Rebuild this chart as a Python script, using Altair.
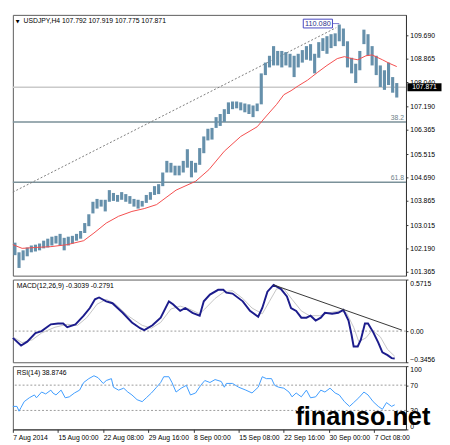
import altair as alt
import pandas as pd

FONT = "Liberation Sans"

# ---------------- data ----------------
bar_no = list(range(2, 376, 4))
bar_high = [102.40, 102.06, 102.13, 102.23, 102.30, 102.33, 102.37, 102.47, 102.54, 102.61,
            102.64, 102.71, 102.57, 102.61, 102.64, 102.71, 102.81, 103.09, 103.40, 103.84,
            103.94, 103.91, 103.91, 104.25, 104.15, 104.08, 104.18, 104.11, 104.04, 103.94,
            103.91, 103.87, 104.08, 104.18, 104.39, 104.46, 104.87, 105.28, 105.21, 105.11,
            105.11, 105.28, 105.69, 105.28, 105.21, 105.73, 106.14, 106.41, 106.44, 106.82,
            106.93, 107.10, 107.34, 107.37, 107.37, 107.34, 107.30, 107.27, 107.23, 107.30,
            108.36, 108.74, 108.98, 109.32, 109.15, 109.15, 109.11, 109.05, 108.98, 109.05,
            109.18, 109.32, 109.39, 109.05, 109.46, 109.60, 109.67, 109.74, 109.77, 110.08,
            109.94, 109.49, 108.91, 108.70, 109.15, 109.90, 109.74, 109.32, 108.98, 108.64,
            108.47, 108.74, 108.23, 108.02]
bar_low = [101.96, 101.51, 101.78, 101.92, 102.06, 102.09, 102.13, 102.20, 102.23, 102.30,
           102.37, 102.30, 102.13, 102.30, 102.37, 102.47, 102.54, 102.74, 102.98, 103.43,
           103.60, 103.67, 103.50, 103.84, 103.87, 103.84, 103.91, 103.84, 103.77, 103.67,
           103.60, 103.67, 103.80, 103.91, 104.08, 104.11, 104.39, 104.87, 104.87, 104.77,
           104.77, 104.87, 105.04, 104.70, 104.87, 105.14, 105.55, 106.00, 106.03, 106.44,
           106.51, 106.65, 106.93, 107.10, 107.13, 107.06, 106.99, 106.93, 106.82, 107.03,
           107.27, 108.30, 108.57, 108.64, 108.64, 108.57, 108.64, 108.57, 108.23, 108.57,
           108.74, 108.84, 108.81, 108.36, 108.91, 109.15, 109.05, 109.25, 109.32, 109.49,
           109.32, 108.57, 108.36, 108.02, 108.47, 109.39, 108.98, 108.64, 108.30, 107.88,
           107.78, 107.95, 107.68, 107.51]

ma_bar = [0, 9, 22, 37, 53, 69, 79, 91, 103, 116, 128, 140, 159, 178, 191, 206, 222, 238,
          247, 257, 264, 271, 278, 287, 297, 306, 316, 323, 330, 336, 344, 350, 360, 367, 374]
ma_val = [102.33, 102.20, 102.23, 102.26, 102.33, 102.47, 102.74, 103.09, 103.33, 103.50,
          103.60, 103.74, 104.25, 104.56, 104.97, 105.62, 106.14, 106.48, 106.86, 107.27,
          107.61, 107.75, 107.92, 108.12, 108.40, 108.64, 108.88, 108.95, 108.88, 108.84,
          108.98, 109.01, 108.84, 108.71, 108.60]

price_ticks = [109.690, 108.865, 108.040, 107.190, 106.365, 105.515, 104.690, 103.865,
               103.015, 102.190, 101.365]
last_close = 107.871
header = "USDJPY,H4  107.792 107.919 107.775 107.871"
fib_levels = [106.651, 104.527]
fib_names = ["38.2", "61.8"]
fib_trend_bar = [0, 315]
fib_trend_price = [104.18, 109.97]
high_bar = 318
high_price = 110.080

macd_bar = [0, 8, 14, 22, 28, 37, 44, 49, 53, 61, 69, 75, 80, 84, 91, 97, 107, 116, 124, 128,
            136, 144, 152, 156, 163, 168, 175, 182, 186, 192, 200, 205, 208, 214, 224, 231,
            239, 243, 248, 254, 261, 267, 271, 276, 281, 286, 290, 295, 300, 304, 311, 317,
            322, 327, 330, 332, 336, 339, 343, 346, 351, 356, 360, 365, 369, 372]
macd_val = [-0.075, -0.160, -0.117, -0.021, 0.0, 0.075, 0.085, 0.085, 0.043, 0.075,
            0.171, 0.256, 0.352, 0.373, 0.330, 0.309, 0.203, 0.096, 0.032, 0.011,
            0.064, 0.149, 0.330, 0.298, 0.224, 0.256, 0.203, 0.171, 0.330, 0.405,
            0.458, 0.458, 0.426, 0.416, 0.330, 0.224, 0.160, 0.256, 0.437, 0.512,
            0.469, 0.384, 0.256, 0.224, 0.149, 0.149, 0.171, 0.117, 0.149, 0.203,
            0.192, 0.203, 0.235, 0.117, -0.043, -0.171, -0.171, -0.096, 0.085, 0.085,
            -0.011, -0.128, -0.235, -0.267, -0.300, -0.304]
sig_bar = [0, 9, 19, 28, 41, 53, 63, 72, 82, 91, 100, 112, 126, 135, 144, 154, 163, 172, 182,
           187, 197, 206, 214, 224, 233, 243, 250, 257, 264, 272, 281, 289, 299, 308, 318,
           325, 332, 337, 344, 350, 358, 365, 372]
sig_val = [-0.064, -0.128, -0.096, -0.021, 0.043, 0.075, 0.064, 0.149, 0.298, 0.352,
           0.298, 0.171, 0.064, 0.032, 0.096, 0.245, 0.277, 0.245, 0.192, 0.245,
           0.362, 0.437, 0.448, 0.362, 0.256, 0.192, 0.330, 0.469, 0.469, 0.352,
           0.224, 0.171, 0.171, 0.203, 0.224, 0.203, 0.043, -0.117, -0.075, 0.011,
           -0.064, -0.203, -0.279]
macd_trend_bar = [254, 379]
macd_trend_val = [0.512, 0.011]
macd_ticks = [0.5715, 0.0, -0.3456]
macd_header = "MACD(12,26,9) -0.3039 -0.2791"

rsi_bar = [0, 4, 6, 8, 11, 16, 21, 23, 28, 32, 37, 39, 42, 47, 51, 55, 60, 65, 69, 74,
           79, 83, 88, 91, 96, 98, 103, 108, 112, 116, 121, 126, 130, 135, 140, 144, 147,
           152, 155, 159, 164, 169, 173, 178, 183, 187, 192, 197, 203, 206, 208, 214, 220,
           227, 233, 239, 243, 247, 252, 255, 259, 264, 269, 272, 276, 281, 286, 290, 295,
           300, 304, 309, 314, 318, 323, 328, 332, 337, 342, 346, 351, 356, 360, 364, 369, 372]
rsi_val = [36.4, 36.4, 28.8, 34.8, 43.9, 50.0, 54.5, 50.0, 59.1, 56.1,
           62.1, 57.6, 54.5, 62.1, 50.0, 51.5, 57.6, 62.1, 74.2, 80.3,
           84.8, 81.8, 72.7, 77.3, 80.3, 66.7, 62.1, 65.2, 59.1, 54.5,
           47.0, 43.9, 50.0, 57.6, 66.7, 74.2, 83.3, 83.3, 74.2, 59.1,
           65.2, 69.7, 54.5, 57.6, 69.7, 77.3, 74.2, 78.8, 75.8, 66.7,
           72.7, 72.7, 66.7, 62.1, 57.6, 66.7, 83.3, 80.3, 80.3, 69.7,
           66.7, 65.2, 59.1, 51.5, 57.6, 51.5, 62.1, 50.0, 51.5, 62.1,
           59.1, 65.2, 57.6, 54.5, 43.9, 36.4, 42.4, 50.0, 59.1, 54.5,
           43.9, 36.4, 31.8, 42.4, 36.4, 38.9]
rsi_levels = [70, 30]
rsi_ticks = [100, 70, 30, 0]
rsi_header = "RSI(14) 38.8746"

date_ticks = [0, 44, 88, 132, 176, 220, 264, 308, 352]
date_labels = ["7 Aug 2014", "15 Aug 00:00", "22 Aug 08:00", "29 Aug 16:00", "8 Sep 00:00",
               "15 Sep 08:00", "22 Sep 16:00", "30 Sep 00:00", "7 Oct 08:00"]
watermark = "finanso.net"

# ---------------- scales / axes ----------------
X_DOM = [0, 383]
P_DOM = [101.238, 110.42]
M_DOM = [-0.3456, 0.5715]
R_DOM = [0, 100]
W = 404

xs = alt.Scale(domain=X_DOM, nice=False, zero=False)
ps = alt.Scale(domain=P_DOM, nice=False, zero=False)
ms = alt.Scale(domain=M_DOM, nice=False, zero=False)
rs = alt.Scale(domain=R_DOM, nice=False, zero=False)

ax_common = dict(orient="right", labelFont=FONT, labelFontSize=7, labelColor="#000",
                 tickSize=2, tickColor="#333", domainColor="#333", labelPadding=2,
                 title=None, grid=False, labelOverlap=False)
price_axis = alt.Axis(values=price_ticks, format=".3f", **ax_common)
macd_axis = alt.Axis(values=macd_ticks, labelFlush=True,
                     labelExpr="datum.value == 0 ? '0.00' : format(datum.value, '.4f')", **ax_common)
rsi_axis = alt.Axis(values=rsi_ticks, labelFlush=True, format="d", **ax_common)

lab_js = "[" + ",".join("'" + s + "'" for s in date_labels) + "]"
date_axis = alt.Axis(orient="bottom", values=date_ticks, labelExpr=lab_js + "[round(datum.value/44)]",
                     labelAlign="left", labelFlush=False, labelOverlap=False, labelFont=FONT,
                     labelFontSize=7, labelColor="#000", tickSize=3, tickColor="#333",
                     domainColor="#333", labelPadding=1, title=None, grid=False)


def XN(f="bar"):
    return alt.X(f + ":Q", scale=xs, axis=None)


def YP(f):
    return alt.Y(f + ":Q", scale=ps, axis=price_axis)


def YM(f):
    return alt.Y(f + ":Q", scale=ms, axis=macd_axis)


def YR(f):
    return alt.Y(f + ":Q", scale=rs, axis=rsi_axis)


# ---------------- main price panel ----------------
bars_df = pd.DataFrame({"bar": bar_no, "high": bar_high, "low": bar_low})
ma_df = pd.DataFrame({"bar": ma_bar, "price": ma_val})
cur_df = pd.DataFrame({"bar": [X_DOM[1]], "price": [last_close], "txt": [f"{last_close:.3f}"]})
fib_df = pd.DataFrame({"bar": [X_DOM[1]] * 2, "price": fib_levels, "name": fib_names})
trend_df = pd.DataFrame({"bar": fib_trend_bar, "price": fib_trend_price})
high_df = pd.DataFrame({"bar": [high_bar], "price": [high_price], "txt": [f"{high_price:.3f}"]})
head_df = pd.DataFrame({"bar": [X_DOM[0]], "price": [P_DOM[1]], "txt": [header], "tri": ["▼"]})

cur_line = alt.Chart(cur_df).mark_rule(color="#cacaca", strokeWidth=1.5).encode(y=YP("price"))
fib_rules = alt.Chart(fib_df).mark_rule(color="#7b9199", strokeWidth=1.6).encode(y=YP("price"))
fib_text = alt.Chart(fib_df).mark_text(align="right", baseline="bottom", dx=-2, dy=-1,
                                        fontSize=7, font=FONT, color="#6e7f88").encode(
    x=XN(), y=YP("price"), text="name:N")
trend = alt.Chart(trend_df).mark_line(color="#7a7a7a", strokeWidth=1, strokeDash=[2, 2]).encode(
    x=XN(), y=YP("price"))
candles = alt.Chart(bars_df).mark_rule(color="#6690ab", strokeWidth=3.2).encode(
    x=XN(), y=YP("low"), y2="high:Q")
ma_line = alt.Chart(ma_df).mark_line(color="#f44b4b", strokeWidth=1).encode(x=XN(), y=YP("price"))

hi_tick = alt.Chart(high_df).mark_point(shape="M-1,0H1", size=64, stroke="#4545c0",
                                         strokeWidth=1, xOffset=-4, yOffset=-1).encode(
    x=XN(), y=YP("price"))
hi_box = alt.Chart(high_df).mark_point(shape="M-1,-0.3H1V0.3H-1Z", size=900, filled=True,
                                        fill="white", fillOpacity=1, opacity=1, stroke="#4545c0",
                                        strokeWidth=1, xOffset=-22, yOffset=-1).encode(
    x=XN(), y=YP("price"))
hi_text = alt.Chart(high_df).mark_text(fontSize=7.5, font=FONT, color="#2e2e8c", dx=-22, dy=-1).encode(
    x=XN(), y=YP("price"), text="txt:N")

head_tri = alt.Chart(head_df).mark_text(align="left", baseline="top", dx=3, dy=4, fontSize=5,
                                         font="DejaVu Sans", color="#000").encode(
    x=XN(), y=YP("price"), text="tri:N")
head_text = alt.Chart(head_df).mark_text(align="left", baseline="top", dx=11, dy=2, fontSize=7,
                                          font=FONT, color="#000").encode(
    x=XN(), y=YP("price"), text="txt:N")

px_box = alt.Chart(cur_df).mark_point(shape="M-1,-0.24H1V0.24H-1Z", size=1225, filled=True,
                                       fill="#000", opacity=1, fillOpacity=1, xOffset=19).encode(
    x=XN(), y=YP("price"))
px_text = alt.Chart(cur_df).mark_text(fontSize=7, font=FONT, color="#fff", dx=19).encode(
    x=XN(), y=YP("price"), text="txt:N")

main = alt.layer(cur_line, fib_rules, trend, candles, ma_line, fib_text, hi_tick, hi_box,
                 hi_text, head_tri, head_text, px_box, px_text).properties(width=W, height=268)

# ---------------- MACD panel ----------------
macd_df = pd.DataFrame({"bar": macd_bar, "v": macd_val})
sig_df = pd.DataFrame({"bar": sig_bar, "v": sig_val})
mt_df = pd.DataFrame({"bar": macd_trend_bar, "v": macd_trend_val})
zero_df = pd.DataFrame({"v": [0.0]})
mh_df = pd.DataFrame({"bar": [X_DOM[0]], "v": [M_DOM[1]], "txt": [macd_header]})

m_zero = alt.Chart(zero_df).mark_rule(color="#9a9a9a", strokeWidth=1, strokeDash=[2, 2]).encode(y=YM("v"))
m_sig = alt.Chart(sig_df).mark_line(color="#c4c4c4", strokeWidth=1).encode(x=XN(), y=YM("v"))
m_main = alt.Chart(macd_df).mark_line(color="#1c1c8c", strokeWidth=2).encode(x=XN(), y=YM("v"))
m_trend = alt.Chart(mt_df).mark_line(color="#333", strokeWidth=1).encode(x=XN(), y=YM("v"))
m_head = alt.Chart(mh_df).mark_text(align="left", baseline="top", dx=4, dy=3, fontSize=7,
                                     font=FONT, color="#000").encode(x=XN(), y=YM("v"), text="txt:N")
macd = alt.layer(m_zero, m_sig, m_main, m_trend, m_head).properties(width=W, height=85)

# ---------------- RSI panel ----------------
rsi_df = pd.DataFrame({"bar": rsi_bar, "v": rsi_val})
lvl_df = pd.DataFrame({"v": rsi_levels})
rh_df = pd.DataFrame({"bar": [X_DOM[0]], "v": [R_DOM[1]], "txt": [rsi_header]})
wm_df = pd.DataFrame({"bar": [X_DOM[1]], "v": [R_DOM[0]], "txt": [watermark]})

XR = alt.X("bar:Q", scale=xs, axis=date_axis)
r_lvl = alt.Chart(lvl_df).mark_rule(color="#9a9a9a", strokeWidth=1, strokeDash=[2, 2]).encode(y=YR("v"))
r_line = alt.Chart(rsi_df).mark_line(color="#3d9bff", strokeWidth=1).encode(x=XR, y=YR("v"))
r_head = alt.Chart(rh_df).mark_text(align="left", baseline="top", dx=4, dy=3, fontSize=7,
                                     font=FONT, color="#000").encode(x=XR, y=YR("v"), text="txt:N")
r_wm = alt.Chart(wm_df).mark_text(align="right", baseline="alphabetic", dx=25, dy=-5, fontSize=26,
                                   font=FONT, fontWeight="bold", color="#000").encode(
    x=XR, y=YR("v"), text="txt:N")
rsi = alt.layer(r_lvl, r_line, r_head, r_wm).properties(width=W, height=65)

chart = alt.vconcat(main, macd, rsi, spacing=2).properties(
    padding={"left": 0, "top": 0, "right": 0, "bottom": 0}, background="white"
).configure_view(stroke="#5a5a5a", strokeWidth=1)

chart.save("out.html", embed_options={"renderer": "svg", "actions": False})
